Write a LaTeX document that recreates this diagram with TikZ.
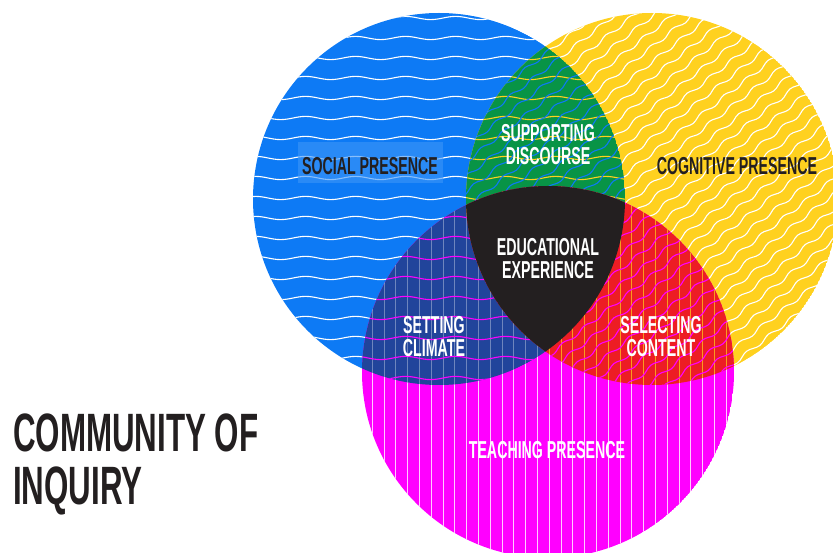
\documentclass[tikz,border=0pt]{standalone}
\usepackage{fontspec}
\usepackage{tikz}
\usetikzlibrary{decorations.pathmorphing}
\newfontfamily\coifont[FakeStretch=0.58]{Liberation Sans}
\definecolor{socialblue}{RGB}{13,122,245}
\definecolor{cognitiveyellow}{RGB}{255,209,31}
\definecolor{teachingmagenta}{RGB}{255,0,255}
\definecolor{discoursegreen}{RGB}{8,148,70}
\definecolor{climateblue}{RGB}{33,68,155}
\definecolor{contentred}{RGB}{237,29,36}
\definecolor{experienceblack}{RGB}{35,31,32}
\def\rad{186pt}
\newcommand{\socialwaves}[1]{%
    \foreach \yy in {18,38,...,398}
        \draw[#1, hwave] (240,\yy) -- (660,\yy);}
\newcommand{\cognitivewaves}[1]{%
    \begin{scope}[shift={(cognitive)}, rotate=38]
        \foreach \yy in {-276,-264,...,276}
            \draw[#1, dwave] (-280,\yy) -- (280,\yy);
    \end{scope}}
\newcommand{\teachinglines}[1]{%
    \foreach \i in {-8,...,25}
        \draw[#1, vline] ({443+11.8*\i},170) -- ({443+11.8*\i},570);}

\begin{document}
\begin{tikzpicture}[x=1pt, y=-1pt,
    hwave/.style={line width=1.1pt, decorate, decoration={snake, amplitude=1.6pt, segment length=50pt}},
    dwave/.style={line width=1.1pt, decorate, decoration={snake, amplitude=1.8pt, segment length=28pt}},
    vline/.style={line width=0.9pt},
    darklabel/.style={text=experienceblack, inner sep=0pt, font=\coifont\bfseries\fontsize{24.5}{23}\selectfont},
    whitelabel/.style={text=white, inner sep=0pt, align=center, font=\coifont\bfseries\fontsize{24.5}{23}\selectfont},
    titletext/.style={text=experienceblack, inner sep=0pt, align=left, font=\coifont\bfseries\fontsize{54}{53}\selectfont}]
    \useasboundingbox (0,0) rectangle (833,553);
    \coordinate (social) at (439,199);
    \coordinate (cognitive) at (652,199);
    \coordinate (teaching) at (548,372);

    \begin{scope}
        \clip (social) circle[radius=\rad];
        \fill[socialblue] (social) circle[radius=\rad];
        \socialwaves{white}
    \end{scope}
    \begin{scope}
        \clip (cognitive) circle[radius=\rad];
        \fill[cognitiveyellow] (cognitive) circle[radius=\rad];
        \cognitivewaves{white}
    \end{scope}
    \begin{scope}
        \clip (teaching) circle[radius=\rad];
        \fill[teachingmagenta] (teaching) circle[radius=\rad];
        \teachinglines{white, opacity=0.8}
    \end{scope}

    \begin{scope}
        \clip (social) circle[radius=\rad];
        \clip (cognitive) circle[radius=\rad];
        \fill[discoursegreen] (social) circle[radius=\rad];
        \socialwaves{cognitiveyellow}
        \cognitivewaves{socialblue}
    \end{scope}
    \begin{scope}
        \clip (social) circle[radius=\rad];
        \clip (teaching) circle[radius=\rad];
        \fill[climateblue] (social) circle[radius=\rad];
        \teachinglines{white, opacity=0.35}
        \socialwaves{teachingmagenta}
    \end{scope}
    \begin{scope}
        \clip (cognitive) circle[radius=\rad];
        \clip (teaching) circle[radius=\rad];
        \fill[contentred] (cognitive) circle[radius=\rad];
        \teachinglines{cognitiveyellow, opacity=0.7}
        \cognitivewaves{teachingmagenta}
    \end{scope}
    \begin{scope}
        \clip (social) circle[radius=\rad];
        \clip (cognitive) circle[radius=\rad];
        \fill[experienceblack] (teaching) circle[radius=\rad];
    \end{scope}

    \fill[socialblue!80!white, opacity=0.6] (298,142) rectangle (443,183);
    \node[darklabel] (socialpresence) at (370,166) {SOCIAL PRESENCE};
    \node[darklabel] (cognitivepresence) at (737,166) {COGNITIVE PRESENCE};
    \node[whitelabel] (discourse) at (548,145) {SUPPORTING\\DISCOURSE};
    \node[whitelabel] (experience) at (548,259) {EDUCATIONAL\\EXPERIENCE};
    \node[whitelabel] (climate) at (434,337) {SETTING\\CLIMATE};
    \node[whitelabel] (content) at (661,337) {SELECTING\\CONTENT};
    \node[whitelabel] (teachingpresence) at (547,450) {TEACHING PRESENCE};
    \node[titletext, anchor=north west] (title) at (13,414) {COMMUNITY OF\\INQUIRY};
\end{tikzpicture}
\end{document}
